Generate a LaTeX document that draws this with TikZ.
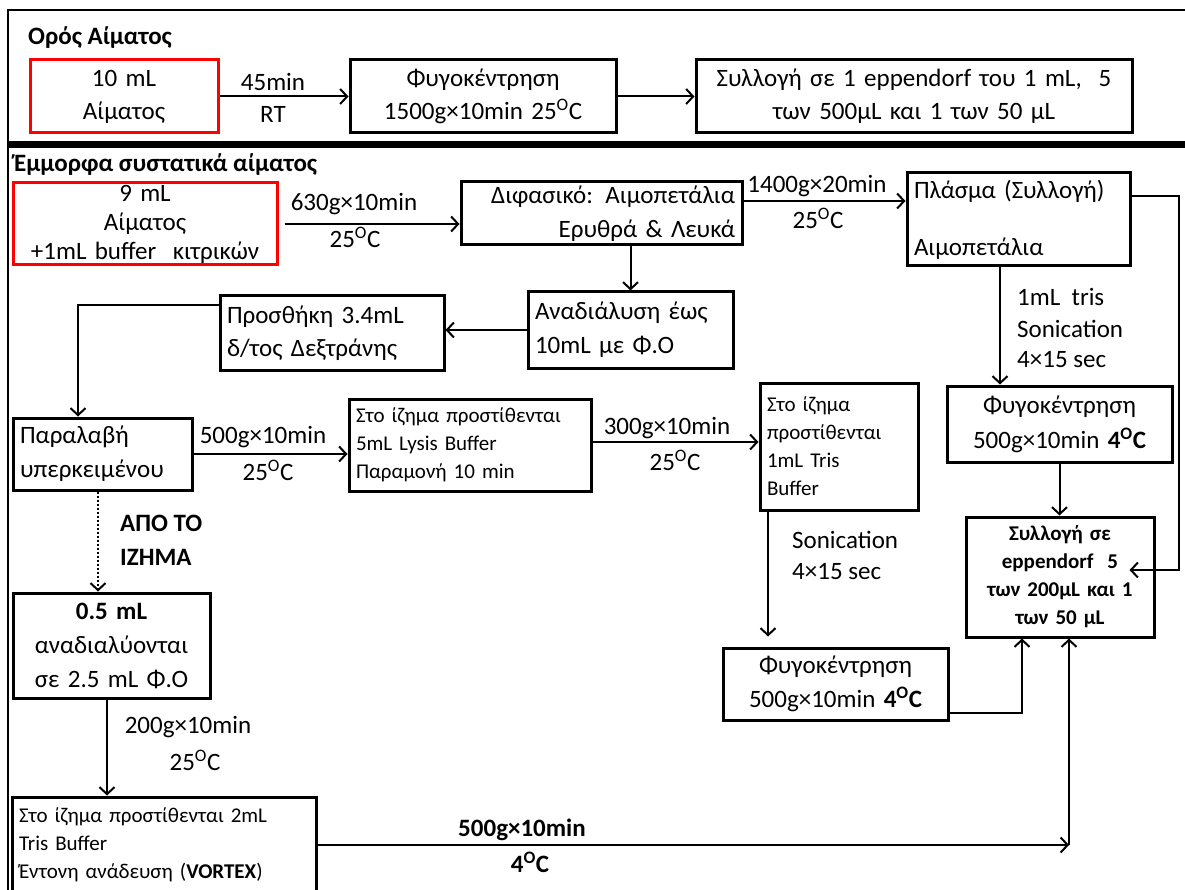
\documentclass[tikz,border=0pt]{standalone}
\usepackage{fontspec}
\setmainfont{Carlito}
\usetikzlibrary{arrows.meta}
\newcommand{\dC}{\textsuperscript{O}C}
\begin{document}
\begin{tikzpicture}[x=1pt,y=-1pt,
  box/.style={draw=black, line width=3pt, inner xsep=7pt, inner ysep=0pt,
    font=\fontsize{25}{33}\selectfont},
  redbox/.style={box, draw=red},
  sm/.style={font=\fontsize{21}{28}\selectfont},
  smb/.style={font=\fontsize{21}{28}\selectfont\bfseries},
  lbl/.style={inner sep=0pt, font=\fontsize{25}{33}\selectfont},
  ttl/.style={inner sep=0pt, font=\fontsize{25}{33}\selectfont\bfseries, anchor=west},
  arr/.style={-{Straight Barb[length=7pt,width=15pt,line width=2pt]}, line width=2pt},
  conn/.style={line width=2pt}]
\useasboundingbox (0,0) rectangle (1185,890);
\fill[white] (0,0) rectangle (1185,890);
% frame
\draw[line width=2pt] (8,893) -- (8,10) -- (1190,10);
\draw[line width=7pt] (8,144.5) -- (1190,144.5);

% section 1
\node[ttl] (t1) at (28,38) {Ορός Αίματος};
\node[redbox, minimum width=188, minimum height=73, text width=174, align=center] (r1) at (124,96.5) {10 mL\\Αίματος};
\node[box, minimum width=266, minimum height=73, text width=252, align=center] (f1) at (483,96.5) {Φυγοκέντρηση\\1500g×10min 25\dC};
\node[box, minimum width=436, minimum height=73, text width=422, align=center] (s1) at (914,96.5) {Συλλογή σε 1 eppendorf του 1 mL,\ \ 5\\των 500μL και 1 των 50 μL};
\draw[arr] (r1.east) -- (f1.west);
\draw[arr] (f1.east) -- (s1.west);
\node[lbl] (l45) at (273,82) {45min};
\node[lbl] (lrt) at (273,114) {RT};

% section 2
\node[ttl] (t2) at (14,165) {Έμμορφα συστατικά αίματος};
\node[redbox, minimum width=264, minimum height=82, text width=250, align=center, font=\fontsize{25}{29}\selectfont] (r2) at (145,224) {9 mL\\Αίματος\\+1mL buffer\ \ κιτρικών};
\node[box, minimum width=281, minimum height=63, text width=267, align=right, font=\fontsize{25}{34}\selectfont] (d) at (601.5,213.5) {Διφασικό: Αιμοπετάλια\\Ερυθρά \& Λευκά};
\node[box, minimum width=223, minimum height=93, text width=209, align=left] (p) at (1018.5,219.5) {Πλάσμα (Συλλογή)\\[24pt]Αιμοπετάλια};
\node[box, minimum width=205, minimum height=76, text width=191, align=left, font=\fontsize{25}{34}\selectfont] (n) at (630.5,330) {Αναδιάλυση έως\\10mL με Φ.Ο};
\node[box, minimum width=224, minimum height=74, text width=210, align=left] (q) at (332,333) {Προσθήκη 3.4mL\\δ/τος Δεξτράνης};
\node[box, minimum width=179, minimum height=72, text width=165, align=left, font=\fontsize{25}{34}\selectfont] (r) at (102.5,454) {Παραλαβή\\υπερκειμένου};
\node[box, sm, minimum width=242, minimum height=92, text width=228, align=left] (l) at (470,445) {Στο ίζημα προστίθενται\\5mL Lysis Buffer\\Παραμονή 10 min};
\node[box, sm, minimum width=158, minimum height=127, text width=144, align=left] (t) at (839,446.5) {Στο ίζημα\\προστίθενται\\1mL Tris\\Buffer};
\node[box, minimum width=225, minimum height=72, text width=211, align=center, font=\fontsize{25}{34}\selectfont] (g3) at (835.5,684) {Φυγοκέντρηση\\500g×10min \textbf{4\dC}};
\node[box, minimum width=225, minimum height=76, text width=211, align=center, font=\fontsize{25}{35}\selectfont] (g2) at (1059.5,424) {Φυγοκέντρηση\\500g×10min \textbf{4\dC}};
\node[box, smb, minimum width=188, minimum height=120, text width=174, align=center] (c) at (1060,577) {Συλλογή σε\\eppendorf\ \ 5\\των 200μL και 1\\των 50 μL};
\node[box, minimum width=197, minimum height=105, text width=183, align=center, font=\fontsize{25}{34}\selectfont] (h) at (111.5,645.5) {\textbf{0.5 mL}\\αναδιαλύονται\\σε 2.5 mL Φ.Ο};
\node[box, sm, minimum width=304, minimum height=96, text width=290, align=left] (v) at (164,845) {Στο ίζημα προστίθενται 2mL\\Tris Buffer\\Έντονη ανάδευση (\textbf{VORTEX})};

% connectors
\draw[arr] ([xshift=6pt]r2.east) -- (r2.east -| d.west);
\node[lbl] (a630) at (354,204) {630g×10min};
\node[lbl] (a630t) at (355,237) {25\dC};

\draw[arr] ([yshift=12.5pt]d.east) -- ([yshift=12.5pt]d.east -| p.west);
\node[lbl] (a1400) at (817,186) {1400g×20min};
\node[lbl] (a1400t) at (818,218) {25\dC};

\draw[arr] ([yshift=23.5pt]p.east) -- ++(47,0) |- ([xshift=-26pt,yshift=7pt]c.east);

\draw[arr] (n.north |- d.south) -- (n.north);
\draw[arr] (n.west) -- (n.west -| q.east);
\draw[arr] ([yshift=28pt]q.west) -| ([xshift=-24.5pt]r.north);

\draw[arr] (r.east) -- (r.east -| l.west);
\node[lbl] (a500) at (263,437) {500g×10min};
\node[lbl] (a500t) at (268,470) {25\dC};

\draw[arr] ([yshift=3pt]l.east) -- ([yshift=3pt]l.east -| t.west);
\node[lbl] (a300) at (667,428) {300g×10min};
\node[lbl] (a300t) at (675,460) {25\dC};

\coordinate (g3top) at ([yshift=10pt]g3.north);
\draw[arr] ([xshift=-71pt]t.south) -- ([xshift=-71pt]t.south |- g3top);
\node[lbl, anchor=west] (son1) at (792,540) {Sonication};
\node[lbl, anchor=west] (son1b) at (792,572) {4×15 sec};

\draw[arr] ([yshift=-29pt]g3.east) -| ([xshift=-38pt]c.south);

\draw[arr] ([xshift=-18.5pt]p.south) -- ([xshift=-18.5pt]p.south |- g2.north);
\node[lbl, anchor=west] (tr1) at (1017,297) {1mL\ \ tris};
\node[lbl, anchor=west] (tr2) at (1017,329) {Sonication};
\node[lbl, anchor=west] (tr3) at (1017,360) {4×15 sec};

\draw[arr] (g2.south) -- (g2.south |- c.north);

\draw[arr, dash pattern=on 2pt off 2pt, line width=2pt] ([xshift=-4.5pt]r.south) -- ([xshift=-4.5pt]r.south |- h.north);
\node[lbl, anchor=west, font=\fontsize{25}{33}\selectfont\bfseries] (apo1) at (120,523) {ΑΠΟ ΤΟ};
\node[lbl, anchor=west, font=\fontsize{25}{33}\selectfont\bfseries] (apo2) at (120,557) {ΙΖΗΜΑ};

\draw[arr] ([xshift=-4.5pt]h.south) -- ([xshift=-4.5pt]h.south |- v.north);
\node[lbl] (a200) at (188,727) {200g×10min};
\node[lbl] (a200t) at (195,760) {25\dC};

\coordinate (corner) at ([xshift=9pt]c.south |- v.east);
\draw[arr] (v.east) -- (corner);
\draw[arr] (corner) -- (corner |- c.south);
\node[lbl, font=\fontsize{25}{33}\selectfont\bfseries] (b500) at (522,830) {500g×10min};
\node[lbl, font=\fontsize{25}{33}\selectfont\bfseries] (b500t) at (530,862) {4\dC};
\end{tikzpicture}
\end{document}
